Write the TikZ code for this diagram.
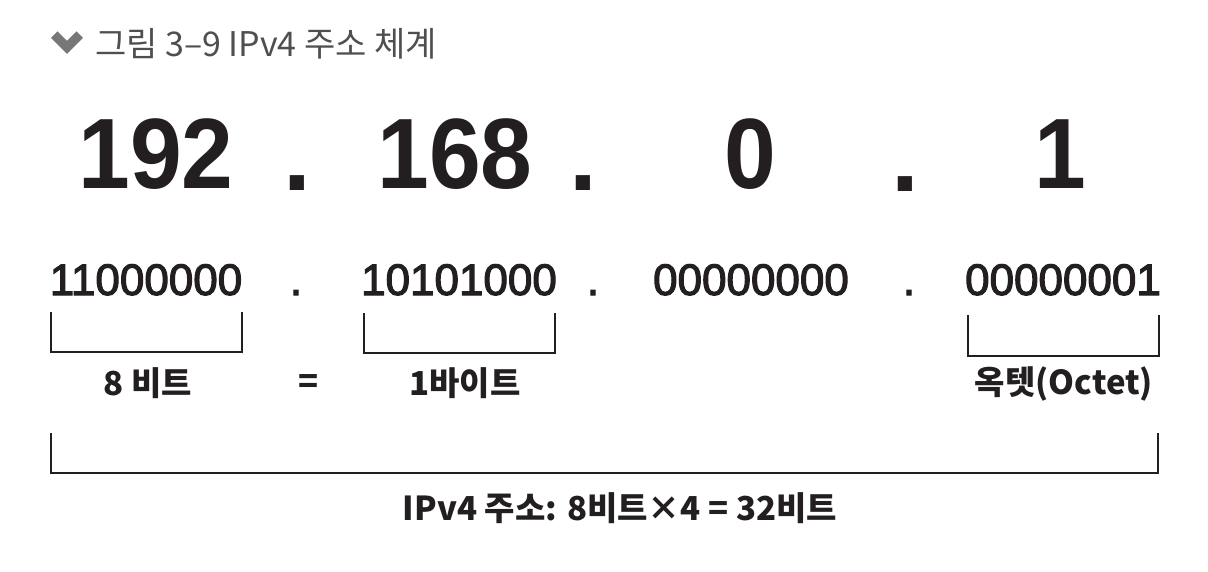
\documentclass[tikz,border=0pt]{standalone}
\usepackage{fontspec}
\setmainfont{Liberation Sans}
\newfontfamily\binfont{Liberation Sans}[FakeBold=2.6]
\newfontfamily\kr{Noto Sans CJK KR}
\definecolor{ink}{HTML}{231F20}
\definecolor{titlegray}{HTML}{4F4F4F}
\definecolor{chevgray}{HTML}{777777}
\newcommand{\narrow}[1]{\scalebox{0.93}[1]{#1}}
\begin{document}
\begin{tikzpicture}[x=1pt,y=-1pt,
  every node/.style={inner sep=0pt, outer sep=0pt, text=ink},
  bignum/.style={font=\fontsize{100}{100}\selectfont\bfseries, anchor=base},
  binnum/.style={font=\binfont\fontsize{44}{44}\selectfont, anchor=base},
  lbl/.style={font=\kr\bfseries\fontsize{33}{33}\selectfont, anchor=center},
  brk/.style={draw=ink, line width=1.8pt, line join=miter}]
\useasboundingbox (0,0) rectangle (1208,572);
\fill[white] (0,0) rectangle (1208,572);

% title
\fill[chevgray] (51,38) -- (57.5,31.5) -- (67,41) -- (76.5,31.5) -- (83,38) -- (67,54) -- cycle;
\node[anchor=west, font=\kr\fontsize{34}{34}\selectfont, text=titlegray] (title) at (95,44) {그림 3–9 IPv4 주소 체계};

% big decimal numbers
\node[bignum] (d1) at (156,189) {\narrow{192}};
\node[bignum] (p1) at (297,191) {.};
\node[bignum] (d2) at (455,189) {\narrow{168}};
\node[bignum] (p2) at (583,191) {.};
\node[bignum] (d3) at (750,189) {\narrow{0}};
\node[bignum] (p3) at (905,192) {.};
\node[bignum] (d4) at (1060,189) {\narrow{1}};

% binary numbers
\node[binnum] (b1) at (146,295) {11000000};
\node[binnum] (q1) at (296,295) {.};
\node[binnum] (b2) at (459,295) {10101000};
\node[binnum] (q2) at (593,295) {.};
\node[binnum] (b3) at (751,295) {00000000};
\node[binnum] (q3) at (909,295) {.};
\node[binnum] (b4) at (1063,295) {00000001};

% bracket corner coordinates
\coordinate (k1a) at (50.7,312); \coordinate (k1b) at (50.7,352);
\coordinate (k1c) at (241.7,352); \coordinate (k1d) at (241.7,312);
\coordinate (k2a) at (364,313); \coordinate (k2b) at (364,353);
\coordinate (k2c) at (555,353); \coordinate (k2d) at (555,313);
\coordinate (k3a) at (968,315); \coordinate (k3b) at (968,356);
\coordinate (k3c) at (1159,356); \coordinate (k3d) at (1159,315);
\coordinate (k4a) at (50.7,433); \coordinate (k4b) at (50.7,473);
\coordinate (k4c) at (1158,473); \coordinate (k4d) at (1158,433);

\draw[brk] (k1a) -- (k1b) -- (k1c) -- (k1d);
\draw[brk] (k2a) -- (k2b) -- (k2c) -- (k2d);
\draw[brk] (k3a) -- (k3b) -- (k3c) -- (k3d);
\draw[brk] (k4a) -- (k4b) -- (k4c) -- (k4d);

% labels
\node[lbl] (l1) at (148,383) {8 비트};
\node[lbl] (leq) at (309,384) {=};
\node[lbl] (l2) at (465,383) {1바이트};
\node[lbl] (l3) at (1064,384) {옥텟(Octet)};
\node[lbl] (l4) at (620,508) {IPv4 주소: 8비트×4 = 32비트};
\end{tikzpicture}
\end{document}
